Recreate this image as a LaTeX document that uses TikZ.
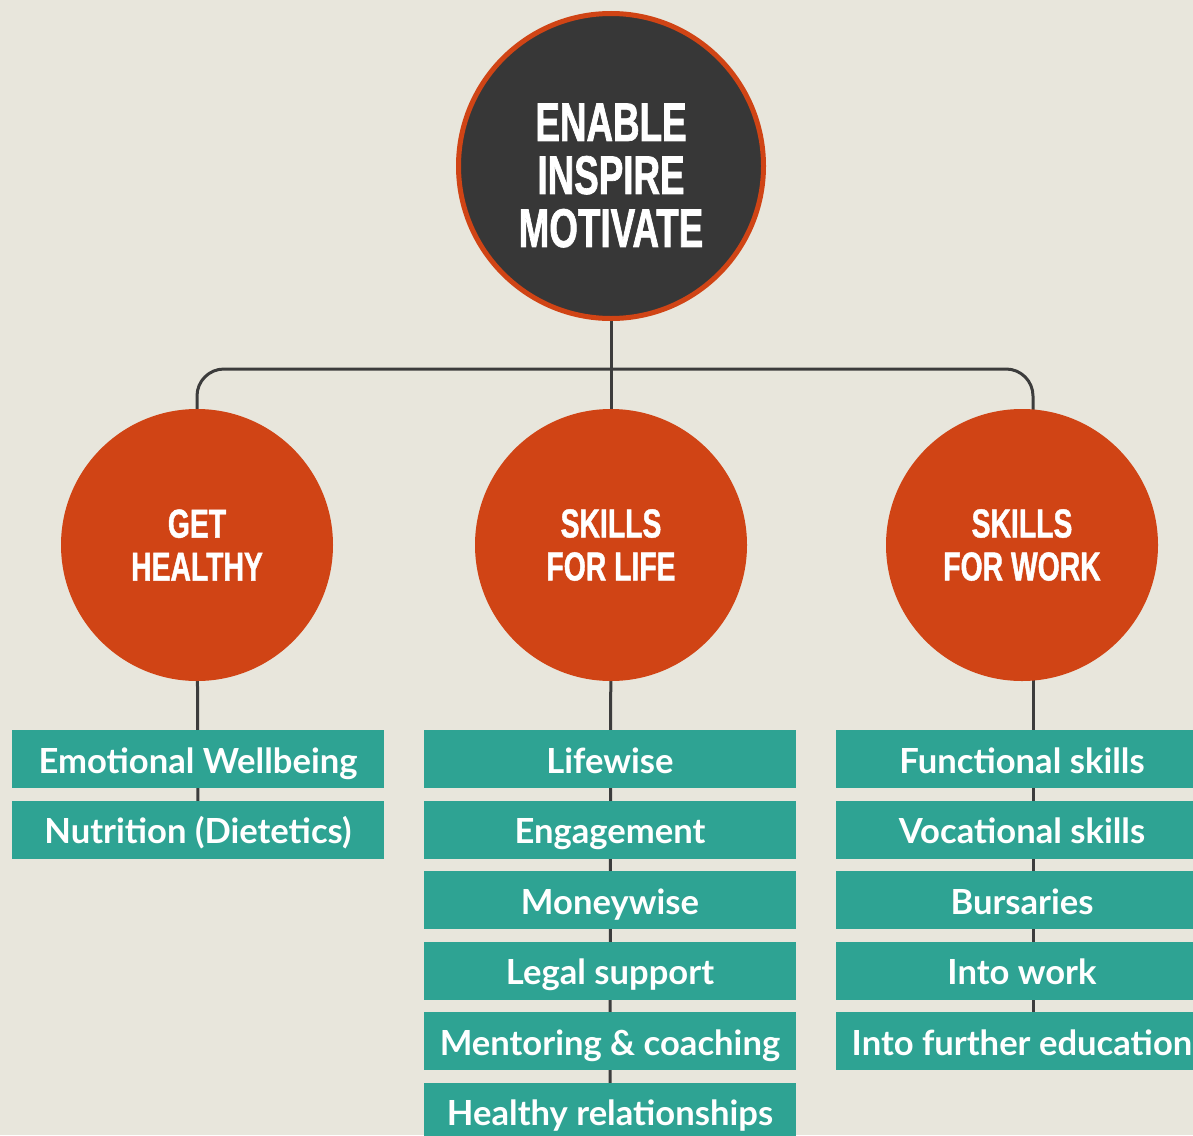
\documentclass[tikz,border=0pt]{standalone}
\usepackage{fontspec}
\setmainfont{Lato}
\newfontfamily\boxfont{Lato}
\newfontfamily\condtop{Liberation Sans}[FakeStretch=0.675,FakeBold=1.2]
\newfontfamily\condmid{Liberation Sans}[FakeStretch=0.70,FakeBold=1]
\definecolor{bgc}{HTML}{E8E6DC}
\definecolor{orng}{HTML}{D04415}
\definecolor{dark}{HTML}{373737}
\definecolor{teal}{HTML}{2EA393}
\definecolor{linec}{HTML}{3C3C3C}
\pgfdeclarelayer{back}
\pgfdeclarelayer{lines}
\pgfsetlayers{back,lines,main}
\tikzset{
  topcircle/.style={circle, draw=orng, line width=5pt, fill=dark, minimum size=305pt, inner sep=0pt},
  toptext/.style={text=white, align=center, inner sep=0pt, font=\condtop\bfseries\fontsize{54.5}{53}\selectfont},
  midcircle/.style={circle, fill=orng, minimum size=272pt, inner sep=0pt, text=white, align=center,
     font=\condmid\bfseries\fontsize{40.5}{43}\selectfont},
  itembox/.style={rectangle, fill=teal, minimum width=372pt, minimum height=58pt, inner sep=0pt,
     text=white, text height=28pt, text depth=0pt, font=\boxfont\bfseries\fontsize{34.6}{40}\selectfont},
  conn/.style={draw=linec, line width=3pt}
}
\begin{document}
\begin{tikzpicture}[x=1pt,y=-1pt]
\useasboundingbox (0,0) rectangle (1193,1135);
\begin{pgfonlayer}{back}
\fill[bgc] (0,0) rectangle (1193,1135);
\end{pgfonlayer}
\clip (0,0) rectangle (1193,1135);
% top
\node[topcircle] (c0) at (611,166) {};
\node[toptext] (t0) at (611,175.5) {ENABLE\\INSPIRE\\MOTIVATE};
% middle circles
\node[midcircle] (c1) at (197,545) {GET\\HEALTHY};
\node[midcircle] (c2) at (611,545) {SKILLS\\FOR LIFE};
\node[midcircle] (c3) at (1022,545) {SKILLS\\FOR WORK};
% column 1
\node[itembox] (b11) at (198,759) {Emotional Wellbeing};
\node[itembox] (b12) at (198,829.5) {Nutrition (Dietetics)};
% column 2
\node[itembox] (b21) at (610,759) {Lifewise};
\node[itembox] (b22) at (610,829.5) {Engagement};
\node[itembox] (b23) at (610,900) {Moneywise};
\node[itembox] (b24) at (610,970.5) {Legal support};
\node[itembox] (b25) at (610,1041) {Mentoring \& coaching};
\node[itembox] (b26) at (610,1111.5) {Healthy relationships};
% column 3
\node[itembox] (b31) at (1022,759) {Functional skills};
\node[itembox] (b32) at (1022,829.5) {Vocational skills};
\node[itembox] (b33) at (1022,900) {Bursaries};
\node[itembox] (b34) at (1022,970.5) {Into work};
\node[itembox] (b35) at (1022,1041) {Into further education};
\coordinate (hub) at (611,369);
\coordinate (rx) at (1033,0);
\begin{pgfonlayer}{lines}
\draw[conn] (c0.center) -- (c2.center);
\draw[conn, rounded corners=27pt] (c1.center) |- (hub) -| (c3.center -| rx);
\draw[conn] (c1.center) -- (b12.center);
\draw[conn] (c2.center) -- (b26.center);
\draw[conn] (c3.center -| rx) -- (b35.center -| rx);
\end{pgfonlayer}
\end{tikzpicture}
\end{document}
